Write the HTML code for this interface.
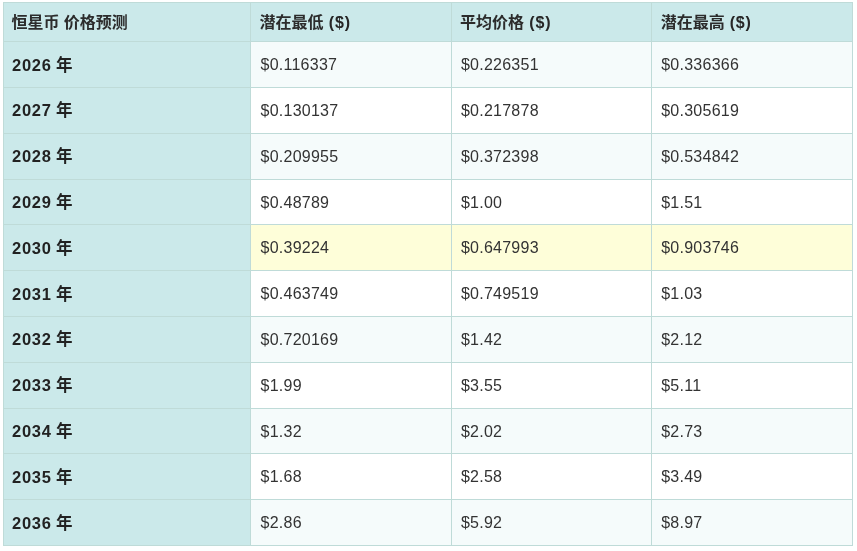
<!DOCTYPE html>
<html lang="zh-CN">
<head>
<meta charset="utf-8">
<title>恒星币 价格预测</title>
<style>
html,body{margin:0;padding:0;background:#fff;}
body{width:857px;height:551px;position:relative;overflow:hidden;font-family:"Liberation Sans","Noto Sans CJK SC",sans-serif;}
#t{position:absolute;left:3px;top:2px;width:850px;height:544px;background:#bfdbd8;}
.c{position:absolute;box-sizing:border-box;white-space:nowrap;overflow:hidden;line-height:20px;}
.h{background:#cbe9ea;color:#2c2c2c;font-weight:bold;font-size:16px;padding-left:7.4px;}
.h i{font-style:normal;color:#262626;letter-spacing:0.85px;margin-left:0.9px;}
.h.k1{padding-left:8.5px;}
.h.k2{padding-left:8.1px;}
.h.k2 i{margin-left:0.7px;}
.h.k3{padding-left:8.7px;}
.h.k3 i{margin-left:0.5px;}
.y{background:#cbe9ea;color:#222;font-weight:bold;font-size:16.5px;padding-left:8.1px;letter-spacing:0.68px;word-spacing:-0.8px;}
.d{color:#333;font-size:16px;padding-left:9.5px;letter-spacing:0.25px;}
.d.k2{padding-left:8.9px;}
.d.k3{padding-left:9.2px;}
.o{background:#f5fbfb;}
.e{background:#ffffff;}
.hl{background:#fefed9;}
</style>
</head>
<body>
<div id="t">
<div class="c h k0" style="left:1px;top:1px;width:246px;height:38px;padding-top:10px">恒星币 价格预测</div>
<div class="c h k1" style="left:248px;top:1px;width:200px;height:38px;padding-top:10px">潜在最低 <i>($)</i></div>
<div class="c h k2" style="left:449px;top:1px;width:199px;height:38px;padding-top:10px">平均价格 <i>($)</i></div>
<div class="c h k3" style="left:649px;top:1px;width:200px;height:38px;padding-top:10px">潜在最高 <i>($)</i></div>
<div class="c y" style="left:1px;top:40px;width:246px;height:45px;padding-top:13px">2026 年</div>
<div class="c d k1 o" style="left:248px;top:40px;width:200px;height:45px;padding-top:13px">$0.116337</div>
<div class="c d k2 o" style="left:449px;top:40px;width:199px;height:45px;padding-top:13px">$0.226351</div>
<div class="c d k3 o" style="left:649px;top:40px;width:200px;height:45px;padding-top:13px">$0.336366</div>
<div class="c y" style="left:1px;top:86px;width:246px;height:45px;padding-top:12px">2027 年</div>
<div class="c d k1 e" style="left:248px;top:86px;width:200px;height:45px;padding-top:13px">$0.130137</div>
<div class="c d k2 e" style="left:449px;top:86px;width:199px;height:45px;padding-top:13px">$0.217878</div>
<div class="c d k3 e" style="left:649px;top:86px;width:200px;height:45px;padding-top:13px">$0.305619</div>
<div class="c y" style="left:1px;top:132px;width:246px;height:45px;padding-top:12px">2028 年</div>
<div class="c d k1 o" style="left:248px;top:132px;width:200px;height:45px;padding-top:13px">$0.209955</div>
<div class="c d k2 o" style="left:449px;top:132px;width:199px;height:45px;padding-top:13px">$0.372398</div>
<div class="c d k3 o" style="left:649px;top:132px;width:200px;height:45px;padding-top:13px">$0.534842</div>
<div class="c y" style="left:1px;top:178px;width:246px;height:44px;padding-top:12px">2029 年</div>
<div class="c d k1 e" style="left:248px;top:178px;width:200px;height:44px;padding-top:13px">$0.48789</div>
<div class="c d k2 e" style="left:449px;top:178px;width:199px;height:44px;padding-top:13px">$1.00</div>
<div class="c d k3 e" style="left:649px;top:178px;width:200px;height:44px;padding-top:13px">$1.51</div>
<div class="c y" style="left:1px;top:223px;width:246px;height:45px;padding-top:13px">2030 年</div>
<div class="c d k1 hl" style="left:248px;top:223px;width:200px;height:45px;padding-top:13px">$0.39224</div>
<div class="c d k2 hl" style="left:449px;top:223px;width:199px;height:45px;padding-top:13px">$0.647993</div>
<div class="c d k3 hl" style="left:649px;top:223px;width:200px;height:45px;padding-top:13px">$0.903746</div>
<div class="c y" style="left:1px;top:269px;width:246px;height:45px;padding-top:13px">2031 年</div>
<div class="c d k1 e" style="left:248px;top:269px;width:200px;height:45px;padding-top:13px">$0.463749</div>
<div class="c d k2 e" style="left:449px;top:269px;width:199px;height:45px;padding-top:13px">$0.749519</div>
<div class="c d k3 e" style="left:649px;top:269px;width:200px;height:45px;padding-top:13px">$1.03</div>
<div class="c y" style="left:1px;top:315px;width:246px;height:45px;padding-top:12px">2032 年</div>
<div class="c d k1 o" style="left:248px;top:315px;width:200px;height:45px;padding-top:13px">$0.720169</div>
<div class="c d k2 o" style="left:449px;top:315px;width:199px;height:45px;padding-top:13px">$1.42</div>
<div class="c d k3 o" style="left:649px;top:315px;width:200px;height:45px;padding-top:13px">$2.12</div>
<div class="c y" style="left:1px;top:361px;width:246px;height:45px;padding-top:12px">2033 年</div>
<div class="c d k1 e" style="left:248px;top:361px;width:200px;height:45px;padding-top:13px">$1.99</div>
<div class="c d k2 e" style="left:449px;top:361px;width:199px;height:45px;padding-top:13px">$3.55</div>
<div class="c d k3 e" style="left:649px;top:361px;width:200px;height:45px;padding-top:13px">$5.11</div>
<div class="c y" style="left:1px;top:407px;width:246px;height:44px;padding-top:12px">2034 年</div>
<div class="c d k1 o" style="left:248px;top:407px;width:200px;height:44px;padding-top:13px">$1.32</div>
<div class="c d k2 o" style="left:449px;top:407px;width:199px;height:44px;padding-top:13px">$2.02</div>
<div class="c d k3 o" style="left:649px;top:407px;width:200px;height:44px;padding-top:13px">$2.73</div>
<div class="c y" style="left:1px;top:452px;width:246px;height:45px;padding-top:13px">2035 年</div>
<div class="c d k1 e" style="left:248px;top:452px;width:200px;height:45px;padding-top:13px">$1.68</div>
<div class="c d k2 e" style="left:449px;top:452px;width:199px;height:45px;padding-top:13px">$2.58</div>
<div class="c d k3 e" style="left:649px;top:452px;width:200px;height:45px;padding-top:13px">$3.49</div>
<div class="c y" style="left:1px;top:498px;width:246px;height:45px;padding-top:13px">2036 年</div>
<div class="c d k1 o" style="left:248px;top:498px;width:200px;height:45px;padding-top:13px">$2.86</div>
<div class="c d k2 o" style="left:449px;top:498px;width:199px;height:45px;padding-top:13px">$5.92</div>
<div class="c d k3 o" style="left:649px;top:498px;width:200px;height:45px;padding-top:13px">$8.97</div>
</div>
</body>
</html>
